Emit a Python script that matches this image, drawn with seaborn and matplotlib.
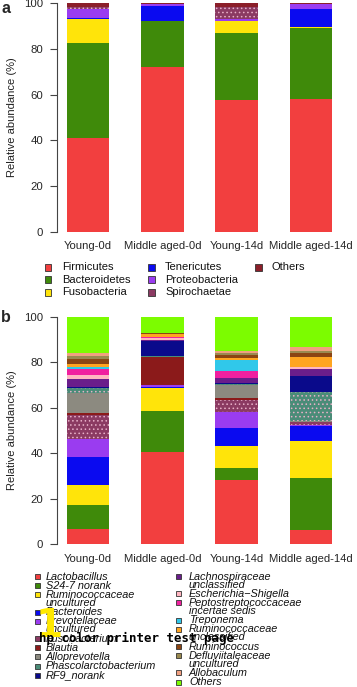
import numpy as np
import pandas as pd
import matplotlib
matplotlib.use("Agg")
import matplotlib.pyplot as plt
from matplotlib.patches import Rectangle
import seaborn as sns

sns.set_style("white")
plt.rcParams['font.family'] = ['Liberation Sans', 'DejaVu Sans']

samples = ["Young-0d", "Middle aged-0d", "Young-14d", "Middle aged-14d"]

# ---- Panel a: phyla ----
phyla = ["Firmicutes", "Bacteroidetes", "Fusobacteria", "Tenericutes",
         "Proteobacteria", "Spirochaetae", "Others"]
firmicutes = [41.0, 72.0, 57.5, 58.0]
bacteroidetes = [41.5, 20.0, 29.5, 31.0]
fusobacteria = [10.5, 0.3, 5.0, 0.3]
tenericutes = [0.5, 6.2, 0.3, 8.0]
proteobacteria = [3.8, 1.0, 0.5, 2.2]
spirochaetae = [1.0, 0.0, 5.5, 0.0]
others_a = [1.7, 0.5, 1.7, 0.5]
phyla_values = [firmicutes, bacteroidetes, fusobacteria, tenericutes,
                proteobacteria, spirochaetae, others_a]
phyla_colors = ["#F23F3F", "#3F8A0A", "#FFE40A", "#0A0AF0",
                "#9A3CF0", "#8B3A62", "#8B1F2A"]
phyla_hatch = [None, None, None, None, None, "....", None]

# ---- Panel b: genera ----
genera = ["Lactobacillus", "S24-7 norank", "Ruminococcaceae\nuncultured",
          "Bacteroides", "Prevotellaceae\nuncultured", "Fusobacterium",
          "Blautia", "Alloprevotella", "Phascolarctobacterium", "RF9_norank",
          "Lachnospiraceae\nunclassified", "Escherichia\u2212Shigella",
          "Peptostreptococcaceae\nincertae sedis", "Treponema",
          "Ruminococcaceae\nunclassified", "Ruminococcus",
          "Defluviitaleaceae\nuncultured", "Allobaculum", "Others"]
young_0d = [6.7, 10.6, 8.8, 12.3, 7.8, 10.5, 1.2, 8.6, 2.0, 0.5,
            3.5, 1.8, 2.8, 0.6, 1.7, 1.8, 1.5, 1.3, 16.0]
middle_0d = [40.7, 17.9, 10.1, 0.2, 1.0, 0.3, 12.2, 0.1, 0.1, 6.9,
             0.2, 1.0, 0.3, 0.0, 1.5, 0.2, 0.1, 0.2, 7.0]
young_14d = [28.3, 5.1, 9.9, 7.8, 7.2, 5.1, 0.7, 6.0, 0.3, 0.6,
             1.9, 0.3, 2.9, 4.9, 0.7, 1.3, 1.0, 1.0, 15.0]
middle_14d = [6.3, 22.7, 16.4, 6.8, 0.3, 1.1, 0.2, 0.2, 12.8, 7.3,
              2.9, 0.7, 0.1, 0.0, 4.3, 1.8, 1.1, 1.8, 13.2]
genera_colors = ["#F23F3F", "#3F8A0A", "#FFE40A", "#0A0AF0", "#9A3CF0",
                 "#8B3A62", "#8B1A1A", "#8C8A80", "#4A8C78", "#0A0A8B",
                 "#6A1E8B", "#FFB6C1", "#F020A0", "#30C8EA", "#FFA520",
                 "#8B4513", "#9A8A50", "#F0A080", "#7CFC00"]
genera_hatch = [None] * 19
genera_hatch[5] = "...."
genera_hatch[8] = "...."

W, H = 357.0, 687.0


def fx(px):
    return px / W


def fy(py):
    return 1 - py / H


def stacked(ax, names, series_list, colors, hatches):
    cum = np.zeros(len(samples))
    for name, vals, col, h in zip(names, series_list, colors, hatches):
        vals = np.asarray(vals, dtype=float)
        df = pd.DataFrame({"sample": samples, "value": vals})
        sns.barplot(data=df, x="sample", y="value", order=samples, color=col,
                    bottom=cum, width=0.57, errorbar=None, ax=ax,
                    linewidth=0, saturation=1, hatch=h,
                    edgecolor="#E8B0C8" if h else col)
        cum = cum + vals
    ax.set_xlim(-0.417, 3.39)
    ax.set_ylim(0, 100)
    ax.set_yticks([0, 20, 40, 60, 80, 100])
    ax.set_ylabel("Relative abundance (%)", fontsize=8, color="#222222")
    ax.yaxis.set_label_coords(-0.141, 0.5)
    ax.set_xlabel("")
    for s in ["top", "right", "bottom"]:
        ax.spines[s].set_visible(False)
    ax.spines["left"].set_color("#444444")
    ax.spines["left"].set_linewidth(0.8)
    ax.tick_params(axis="y", length=5, width=0.8, color="#444444",
                   labelsize=8.2, pad=5, direction="out", left=True)
    ax.tick_params(axis="x", length=0, labelsize=8.1, pad=7)


def manual_legend(fig, labels, colors, columns, y0, entry_step, line_step,
                  msize, fontsize, style):
    # columns: list of (n_entries, marker_center_x_px, text_x_px)
    idx = 0
    for n, mx, tx in columns:
        y = y0
        for k in range(n):
            if idx >= len(labels):
                break
            lines = labels[idx].split("\n")
            fig.add_artist(Rectangle((fx(mx - msize / 2), fy(y + msize / 2)),
                                     msize / W, msize / H,
                                     transform=fig.transFigure,
                                     facecolor=colors[idx], edgecolor="#333333",
                                     linewidth=0.6))
            for j, line in enumerate(lines):
                fig.text(fx(tx), fy(y), line, fontsize=fontsize, style=style,
                         va="center", ha="left", color="#111111")
                if j < len(lines) - 1:
                    y += line_step
            y += entry_step
            idx += 1


plt.rcParams['hatch.linewidth'] = 0.6
fig = plt.figure(figsize=(3.57, 6.87), dpi=100)
fig.patch.set_facecolor("white")

ax1 = fig.add_axes([0.160, 0.6627, 0.792, 0.3329])
stacked(ax1, phyla, phyla_values, phyla_colors, phyla_hatch)

ax2 = fig.add_axes([0.160, 0.2077, 0.792, 0.3313])
genera_values = [list(v) for v in zip(young_0d, middle_0d, young_14d, middle_14d)]
stacked(ax2, genera, genera_values, genera_colors, genera_hatch)

fig.text(0.003, 0.988, "a", fontsize=11.5, fontweight="bold", va="center")
fig.text(0.003, fy(318), "b", fontsize=11.5, fontweight="bold", va="center")

# legend a (3 columns: 3, 3, 1)
manual_legend(fig, phyla, phyla_colors,
              [(3, 48, 62), (3, 151, 165), (1, 258, 272)],
              y0=267.5, entry_step=12.3, line_step=12.3, msize=7,
              fontsize=8, style="normal")

# legend b (2 columns: 10, 9)
manual_legend(fig, genera, genera_colors,
              [(10, 37, 46), (9, 178, 189)],
              y0=576.5, entry_step=9.2, line_step=8.0, msize=5,
              fontsize=7.8, style="italic")

# overlaid watermark text present in the reference image
fig.text(fx(49), fy(637), "1", fontsize=28, fontweight="bold",
         color="#FFE800", family="DejaVu Sans", ha="center", va="baseline")
fig.text(fx(39), fy(642), "hp color printer test page", fontsize=9,
         fontweight="bold", color="black", family="DejaVu Sans Mono",
         va="baseline")

fig.savefig("out.png", dpi=100, facecolor="white")
